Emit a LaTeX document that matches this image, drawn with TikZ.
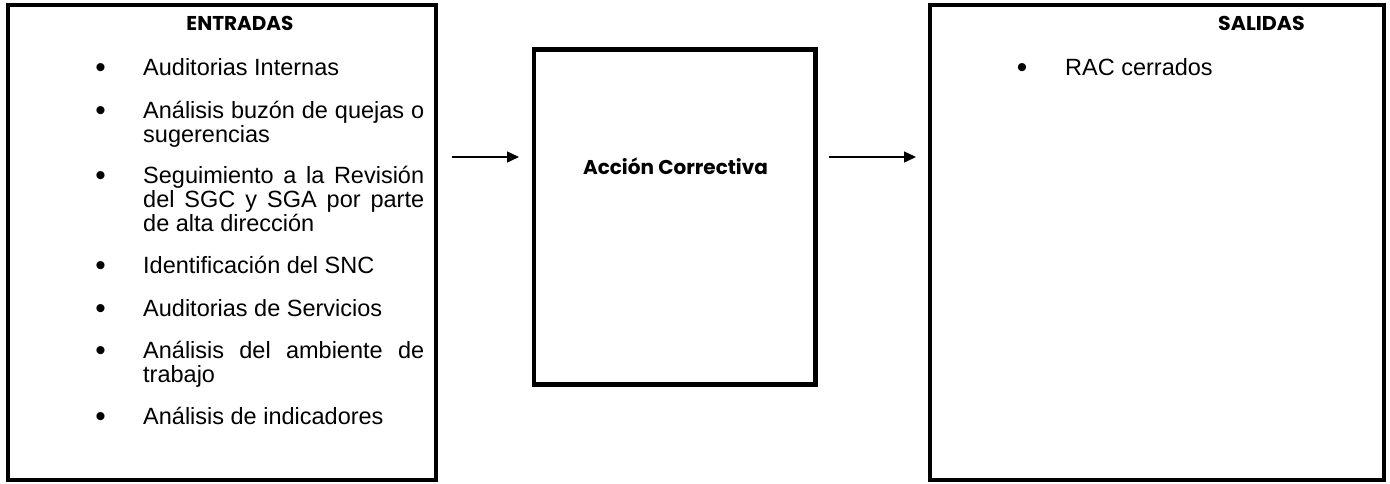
\documentclass[tikz,border=0pt]{standalone}
\usepackage{fontspec}
\setmainfont{Liberation Sans}
\newfontfamily\gothic{Poppins}
\usetikzlibrary{arrows.meta}
\newcommand\itemfont{\fontsize{23.5}{24}\selectfont}
\newcommand\headfont{\gothic\bfseries\fontsize{20}{24}\selectfont}
\newcommand\bigbullet{\scalebox{1.27}{•}}
\begin{document}
\begin{tikzpicture}[x=1pt,y=-1pt,
  frame/.style={draw, line width=4.5pt, inner sep=0pt, outer sep=0pt, anchor=north west},
  head/.style={anchor=base, inner sep=0pt, font=\headfont},
  itemtext/.style={anchor=base west, inner sep=0pt, text width=281pt, align=justify, font=\itemfont,
    execute at begin node={\itemfont\baselineskip=24pt\lineskiplimit=-20pt}},
  bul/.style={anchor=base, inner sep=0pt, font=\itemfont, yshift=-2.2pt},
  arr/.style={line width=1.5pt, -{Triangle[length=12pt,width=11pt]}}]
\useasboundingbox (0,0) rectangle (1390,483);
% frames
\node[frame, minimum width=428pt, minimum height=475pt] (ent) at (8,5) {};
\node[frame, minimum width=281.5pt, minimum height=335pt] (acc) at (534,49.5) {};
\node[frame, minimum width=454pt, minimum height=475pt] (sal) at (930,5) {};
% headings
\node[head] (hent) at (240,30) {ENTRADAS};
\node[head, xscale=1.03] (hsal) at (1261.5,30) {SALIDAS};
\node[head] (hacc) at (675.5,174) {Acción Correctiva};
% inputs
\node[bul] (b1) at (100.5,75) {\bigbullet};
\node[itemtext] (i1) at (143,75) {Auditorias Internas};
\node[bul] (b2) at (100.5,118) {\bigbullet};
\node[itemtext] (i2) at (143,118) {Análisis buzón de quejas o\linebreak sugerencias};
\node[bul] (b3) at (100.5,183) {\bigbullet};
\node[itemtext] (i3) at (143,183) {Seguimiento a la Revisión\linebreak del SGC y SGA por parte\linebreak de alta dirección};
\node[bul] (b4) at (100.5,273) {\bigbullet};
\node[itemtext] (i4) at (143,273) {Identificación del SNC};
\node[bul] (b5) at (100.5,316) {\bigbullet};
\node[itemtext] (i5) at (143,316) {Auditorias de Servicios};
\node[bul] (b6) at (100.5,358.5) {\bigbullet};
\node[itemtext] (i6) at (143,358.5) {Análisis del ambiente de\linebreak trabajo};
\node[bul] (b7) at (100.5,424.5) {\bigbullet};
\node[itemtext] (i7) at (143,424.5) {Análisis de indicadores};
% outputs
\node[bul] (b8) at (1022,75) {\bigbullet};
\node[itemtext] (o1) at (1065,75) {RAC cerrados};
% arrows
\coordinate (ar) at (0,157);
\draw[arr, shorten <=16pt, shorten >=15pt] (ent.east |- ar) -- (acc.west |- ar);
\draw[arr, shorten <=13.5pt, shorten >=14pt] (acc.east |- ar) -- (sal.west |- ar);
\end{tikzpicture}
\end{document}
